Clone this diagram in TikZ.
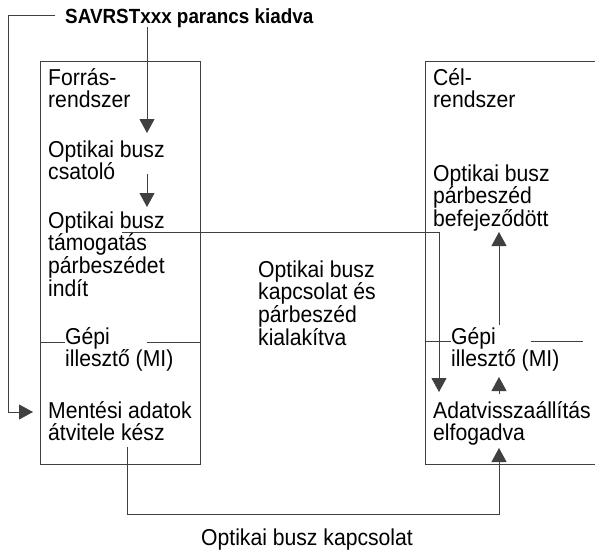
\documentclass[tikz,border=0pt]{standalone}
\usepackage{fontspec}
\setmainfont{Liberation Sans}[FakeStretch=0.92]
\usetikzlibrary{arrows.meta}
\newcommand\lnstrut{\rule{0pt}{18pt}}
\newcommand\ttlstrut{\rule{0pt}{16pt}}
\begin{document}
\begin{tikzpicture}[x=1pt,y=-1pt,
  line/.style={draw=black!75, line width=0.9pt},
  tip/.style={line, -{Triangle[width=15pt,length=14pt]}},
  lbl/.style={anchor=north west, inner sep=0pt, align=left,
              font=\fontsize{23}{22.7}\selectfont},
  ttl/.style={anchor=north west, inner sep=0pt,
              font=\fontsize{20.5}{21}\selectfont\bfseries},
  frame/.style={line}]
\useasboundingbox (0,0) rectangle (595,552);

% system frames
\draw[frame] (40,61) rectangle (200,464);
\draw[frame] (595,61) -- (425,61) -- (425,464) -- (595,464);

% texts
\node[ttl] (title) at (65,7) {\ttlstrut SAVRSTxxx parancs kiadva};
\node[lbl] (forras) at (48,67) {\lnstrut Forrás-\\rendszer};
\node[lbl] (csatolo) at (48,139) {\lnstrut Optikai busz\\csatoló};
\node[lbl] (tamogat) at (48,210) {\lnstrut Optikai busz\\támogatás\\párbeszédet\\indít};
\node[lbl] (gepiL) at (65,326) {\lnstrut Gépi\\illesztő (MI)};
\node[lbl] (mentes) at (48,400) {\lnstrut Mentési adatok\\átvitele kész};
\node[lbl] (middle) at (258,259) {\lnstrut Optikai busz\\kapcsolat és\\párbeszéd\\kialakítva};
\node[lbl] (cel) at (433,67) {\lnstrut Cél-\\rendszer};
\node[lbl] (befej) at (433,163) {\lnstrut Optikai busz\\párbeszéd\\befejeződött};
\node[lbl] (gepiR) at (451,326) {\lnstrut Gépi\\illesztő (MI)};
\node[lbl] (adat) at (433,400) {\lnstrut Adatvisszaállítás\\elfogadva};
\node[lbl, anchor=north] (bus) at (307,527) {\lnstrut Optikai busz kapcsolat};

% connector end points
\coordinate (t0) at (55,15);
\coordinate (t1) at (8,15);
\coordinate (t2) at (8,412);
\coordinate (t3) at (33,412);
\coordinate (a0) at (147,27);
\coordinate (a1) at (147,133);
\coordinate (b0) at (147,174);
\coordinate (b1) at (147,207);
\coordinate (c0) at (122,232);
\coordinate (c1) at (439,232);
\coordinate (c2) at (439,392);
\coordinate (d0) at (499,325);
\coordinate (d1) at (499,232);
\coordinate (e0) at (499,394);
\coordinate (e1) at (499,377);
\coordinate (f0) at (127,447);
\coordinate (f1) at (127,514);
\coordinate (f2) at (499,514);
\coordinate (f3) at (499,448);
\coordinate (gl0) at (40,342);
\coordinate (gl1) at (65,342);
\coordinate (gl2) at (147,342);
\coordinate (gl3) at (200,342);
\coordinate (gr0) at (425,341);
\coordinate (gr1) at (451,341);
\coordinate (gr2) at (531,341);
\coordinate (gr3) at (583,341);

% connectors
\draw[tip] (t0) -- (t1) -- (t2) -- (t3);
\draw[tip] (a0) -- (a1);
\draw[tip] (b0) -- (b1);
\draw[tip] (c0) -- (c1) -- (c2);
\draw[tip] (d0) -- (d1);
\draw[tip] (e0) -- (e1);
\draw[tip] (f0) -- (f1) -- (f2) -- (f3);
\draw[line] (gl0) -- (gl1);
\draw[line] (gl2) -- (gl3);
\draw[line] (gr0) -- (gr1);
\draw[line] (gr2) -- (gr3);
\end{tikzpicture}
\end{document}
